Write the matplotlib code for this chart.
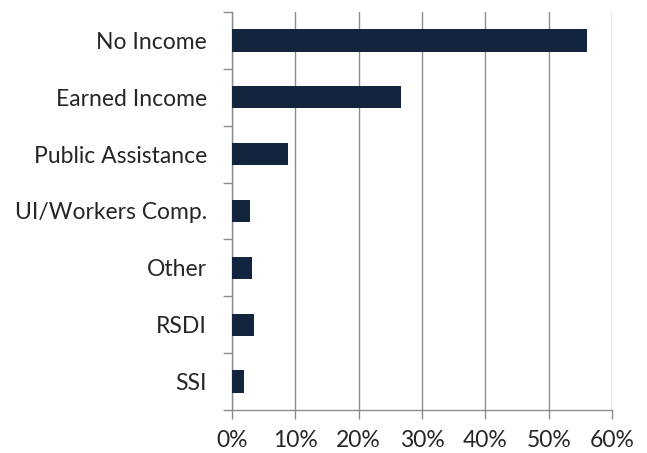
import numpy as np
import matplotlib
matplotlib.use("Agg")
import matplotlib.pyplot as plt
from matplotlib.ticker import FixedLocator, PercentFormatter

categories = ["No Income", "Earned Income", "Public Assistance",
              "UI/Workers Comp.", "Other", "RSDI", "SSI"]
shares = [56.1, 26.7, 8.9, 2.9, 3.1, 3.4, 1.9]
x_ticks = [0, 10, 20, 30, 40, 50, 60]

bar_color = "#13243f"
grid_color = "#8c8c8c"

plt.rcParams["font.family"] = ["Lato", "DejaVu Sans"]

fig = plt.figure(figsize=(6.47, 4.53), dpi=100)
ax = fig.add_axes([232 / 647, 1 - 410 / 453, 380 / 647, 398 / 453])

y = np.arange(len(categories))
ax.barh(y, shares, height=0.39, color=bar_color, zorder=3)

ax.set_xlim(0, 60)
ax.set_ylim(len(categories) - 0.5, -0.5)

ax.set_xticks(x_ticks)
ax.xaxis.set_major_formatter(PercentFormatter(decimals=0))
ax.grid(axis="x", color=grid_color, linewidth=1.0, zorder=0)

# category labels on minor ticks, tick marks between categories
ax.yaxis.set_major_locator(FixedLocator(np.arange(-0.5, len(categories), 1.0)))
ax.yaxis.set_major_formatter(plt.NullFormatter())
ax.yaxis.set_minor_locator(FixedLocator(y))
ax.set_yticklabels(categories, minor=True)
ax.tick_params(axis="y", which="major", length=6.5, width=1, color=grid_color)
ax.tick_params(axis="y", which="minor", length=0, pad=18, labelsize=16.5, labelcolor="#262626")
ax.tick_params(axis="x", length=6.5, width=1, color=grid_color, pad=8,
               labelsize=16.5, labelcolor="#262626")

for side in ["top", "right"]:
    ax.spines[side].set_visible(False)
for side in ["left", "bottom"]:
    ax.spines[side].set_color(grid_color)
    ax.spines[side].set_linewidth(1.0)

fig.savefig("out.png", dpi=100)
